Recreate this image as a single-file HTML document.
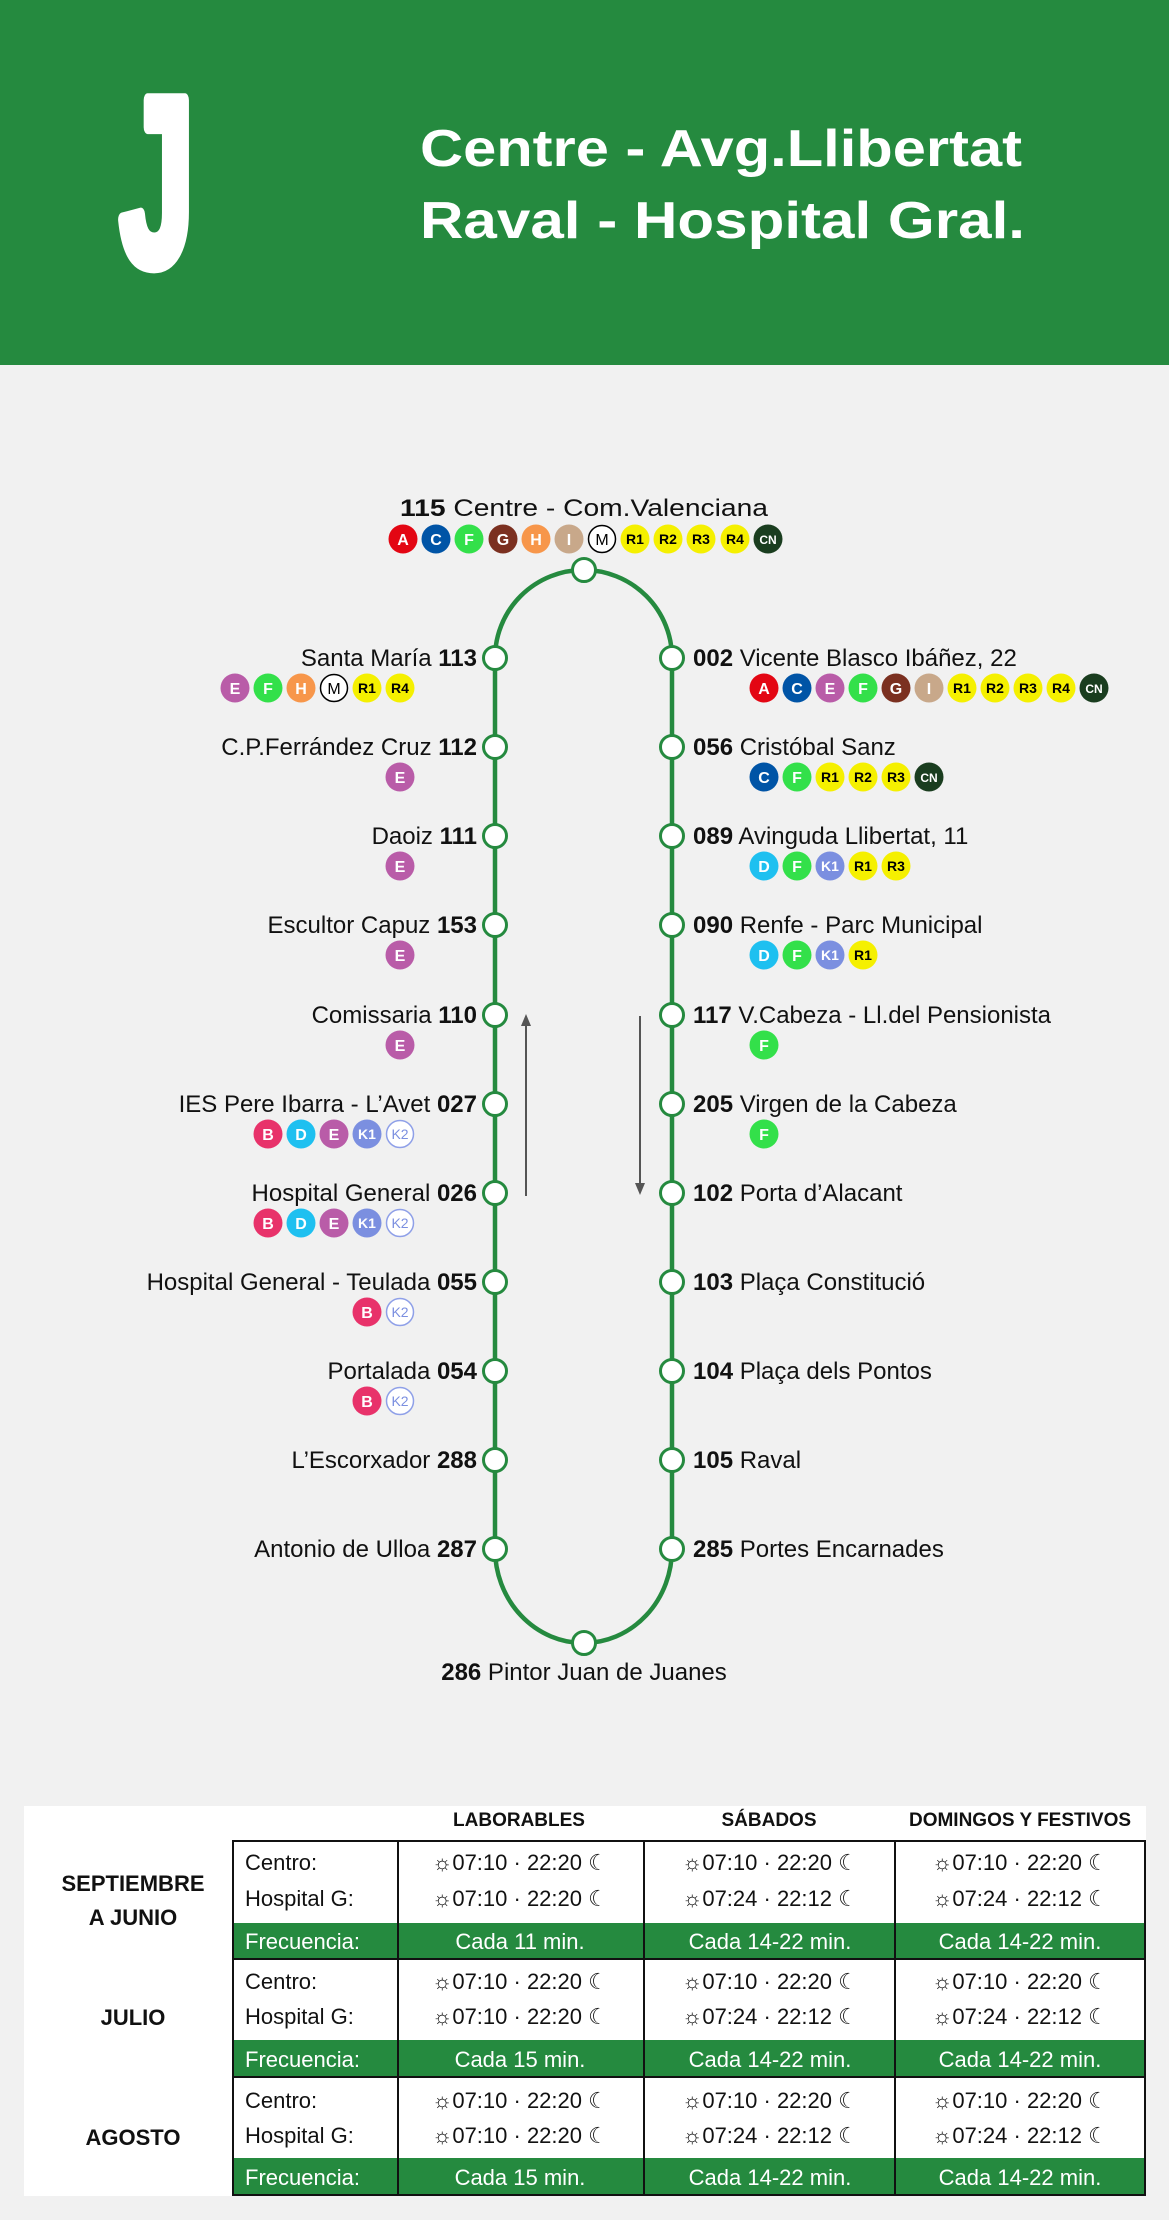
<!DOCTYPE html>
<html><head><meta charset="utf-8"><style>
html,body{margin:0;padding:0;background:#f1f1f1;}
svg{display:block;font-family:"Liberation Sans","DejaVu Sans",sans-serif;}
.bt{font-size:16px;font-weight:bold;fill:#fff;text-anchor:middle}
.rt{font-size:14px;font-weight:bold;fill:#000;text-anchor:middle}
.lbl{font-size:24px;fill:#111}
.num{font-weight:bold}
.node{fill:#fff;stroke:#258a3f;stroke-width:3}
.tc{font-size:22px;fill:#111}
.tw{font-size:22px;fill:#fff}
.hd{font-size:19px;font-weight:bold;fill:#111;text-anchor:middle}
.mo{font-size:22px;font-weight:bold;fill:#111;text-anchor:middle}
</style></head><body>
<svg width="1169" height="2220" viewBox="0 0 1169 2220" xmlns="http://www.w3.org/2000/svg">
<defs>
<g id="A"><circle r="14.5" fill="#e30613"/><text y="6" class="bt">A</text></g>
<g id="B"><circle r="14.5" fill="#e8326a"/><text y="6" class="bt">B</text></g>
<g id="C"><circle r="14.5" fill="#0054a6"/><text y="6" class="bt">C</text></g>
<g id="D"><circle r="14.5" fill="#1ec0f0"/><text y="6" class="bt">D</text></g>
<g id="E"><circle r="14.5" fill="#b95ca8"/><text y="6" class="bt">E</text></g>
<g id="F"><circle r="14.5" fill="#33e04a"/><text y="6" class="bt">F</text></g>
<g id="G"><circle r="14.5" fill="#7b3020"/><text y="6" class="bt">G</text></g>
<g id="H"><circle r="14.5" fill="#f7964a"/><text y="6" class="bt">H</text></g>
<g id="I"><circle r="14.5" fill="#c8a88a"/><text y="6" class="bt">I</text></g>
<g id="M"><circle r="13.5" fill="#fff" stroke="#000" stroke-width="1.5"/><text y="6" class="bt" style="fill:#000;font-weight:normal">M</text></g>
<g id="R1"><circle r="14.5" fill="#f5f000"/><text y="5" class="rt">R1</text></g>
<g id="R2"><circle r="14.5" fill="#f5f000"/><text y="5" class="rt">R2</text></g>
<g id="R3"><circle r="14.5" fill="#f5f000"/><text y="5" class="rt">R3</text></g>
<g id="R4"><circle r="14.5" fill="#f5f000"/><text y="5" class="rt">R4</text></g>
<g id="CN"><circle r="14.5" fill="#1a3d1f"/><text y="5" class="bt" style="font-size:12px">CN</text></g>
<g id="K1"><circle r="14.5" fill="#7b8fe0"/><text y="5" class="bt" style="font-size:14px">K1</text></g>
<g id="K2"><circle r="13.5" fill="#fff" stroke="#8fa0e8" stroke-width="1.5"/><text y="5" class="bt" style="font-size:14px;fill:#7b8fe0;font-weight:normal">K2</text></g>
</defs>

<rect x="0" y="0" width="1169" height="365" fill="#258a3f"/>
<text x="0" y="0" font-size="238" font-weight="bold" fill="#fff" stroke="#fff" stroke-width="14" stroke-linejoin="round" transform="translate(120,264) scale(0.56,1)">J</text>
<text x="420" y="166" font-size="52" font-weight="bold" fill="#fff" textLength="602" lengthAdjust="spacingAndGlyphs">Centre - Avg.Llibertat</text>
<text x="420" y="238" font-size="52" font-weight="bold" fill="#fff" textLength="605" lengthAdjust="spacingAndGlyphs">Raval - Hospital Gral.</text>

<path d="M495,1549 L495,658 A88.5,88 0 0 1 672,658 L672,1549 A88.5,94 0 0 1 495,1549 Z" fill="none" stroke="#258a3f" stroke-width="4.5"/>
<line x1="526" y1="1196" x2="526" y2="1022" stroke="#555" stroke-width="2"/>
<path d="M521,1026 L526,1014 L531,1026 Z" fill="#555"/>
<line x1="640" y1="1016" x2="640" y2="1187" stroke="#555" stroke-width="2"/>
<path d="M635,1183 L640,1195 L645,1183 Z" fill="#555"/>

<text x="400" y="516" class="lbl" textLength="368" lengthAdjust="spacingAndGlyphs"><tspan class="num">115</tspan> Centre - Com.Valenciana</text>
<use href="#A" x="403" y="539"/><use href="#C" x="436" y="539"/><use href="#F" x="469" y="539"/><use href="#G" x="503" y="539"/><use href="#H" x="536" y="539"/><use href="#I" x="569" y="539"/><use href="#M" x="602" y="539"/><use href="#R1" x="635" y="539"/><use href="#R2" x="668" y="539"/><use href="#R3" x="701" y="539"/><use href="#R4" x="735" y="539"/><use href="#CN" x="768" y="539"/>
<circle cx="584" cy="570" r="11.5" class="node"/>

<circle cx="584" cy="1643" r="11.5" class="node"/>
<text x="584" y="1680" class="lbl" text-anchor="middle"><tspan class="num">286</tspan> Pintor Juan de Juanes</text>

<g class="lbl" text-anchor="end">
<text x="477" y="666">Santa María <tspan class="num">113</tspan></text>
<text x="477" y="755">C.P.Ferrández Cruz <tspan class="num">112</tspan></text>
<text x="477" y="844">Daoiz <tspan class="num">111</tspan></text>
<text x="477" y="933">Escultor Capuz <tspan class="num">153</tspan></text>
<text x="477" y="1023">Comissaria <tspan class="num">110</tspan></text>
<text x="477" y="1112">IES Pere Ibarra - L’Avet <tspan class="num">027</tspan></text>
<text x="477" y="1201">Hospital General <tspan class="num">026</tspan></text>
<text x="477" y="1290">Hospital General - Teulada <tspan class="num">055</tspan></text>
<text x="477" y="1379">Portalada <tspan class="num">054</tspan></text>
<text x="477" y="1468">L’Escorxador <tspan class="num">288</tspan></text>
<text x="477" y="1557">Antonio de Ulloa <tspan class="num">287</tspan></text>
</g>
<use href="#E" x="235" y="688"/><use href="#F" x="268" y="688"/><use href="#H" x="301" y="688"/><use href="#M" x="334" y="688"/><use href="#R1" x="367" y="688"/><use href="#R4" x="400" y="688"/>
<use href="#E" x="400" y="777"/>
<use href="#E" x="400" y="866"/>
<use href="#E" x="400" y="955"/>
<use href="#E" x="400" y="1045"/>
<use href="#B" x="268" y="1134"/><use href="#D" x="301" y="1134"/><use href="#E" x="334" y="1134"/><use href="#K1" x="367" y="1134"/><use href="#K2" x="400" y="1134"/>
<use href="#B" x="268" y="1223"/><use href="#D" x="301" y="1223"/><use href="#E" x="334" y="1223"/><use href="#K1" x="367" y="1223"/><use href="#K2" x="400" y="1223"/>
<use href="#B" x="367" y="1312"/><use href="#K2" x="400" y="1312"/>
<use href="#B" x="367" y="1401"/><use href="#K2" x="400" y="1401"/>

<g class="lbl">
<text x="693" y="666"><tspan class="num">002</tspan> Vicente Blasco Ibáñez, 22</text>
<text x="693" y="755"><tspan class="num">056</tspan> Cristóbal Sanz</text>
<text x="693" y="844"><tspan class="num">089</tspan> Avinguda Llibertat, 11</text>
<text x="693" y="933"><tspan class="num">090</tspan> Renfe - Parc Municipal</text>
<text x="693" y="1023"><tspan class="num">117</tspan> V.Cabeza - Ll.del Pensionista</text>
<text x="693" y="1112"><tspan class="num">205</tspan> Virgen de la Cabeza</text>
<text x="693" y="1201"><tspan class="num">102</tspan> Porta d’Alacant</text>
<text x="693" y="1290"><tspan class="num">103</tspan> Plaça Constitució</text>
<text x="693" y="1379"><tspan class="num">104</tspan> Plaça dels Pontos</text>
<text x="693" y="1468"><tspan class="num">105</tspan> Raval</text>
<text x="693" y="1557"><tspan class="num">285</tspan> Portes Encarnades</text>
</g>
<use href="#A" x="764" y="688"/><use href="#C" x="797" y="688"/><use href="#E" x="830" y="688"/><use href="#F" x="863" y="688"/><use href="#G" x="896" y="688"/><use href="#I" x="929" y="688"/><use href="#R1" x="962" y="688"/><use href="#R2" x="995" y="688"/><use href="#R3" x="1028" y="688"/><use href="#R4" x="1061" y="688"/><use href="#CN" x="1094" y="688"/>
<use href="#C" x="764" y="777"/><use href="#F" x="797" y="777"/><use href="#R1" x="830" y="777"/><use href="#R2" x="863" y="777"/><use href="#R3" x="896" y="777"/><use href="#CN" x="929" y="777"/>
<use href="#D" x="764" y="866"/><use href="#F" x="797" y="866"/><use href="#K1" x="830" y="866"/><use href="#R1" x="863" y="866"/><use href="#R3" x="896" y="866"/>
<use href="#D" x="764" y="955"/><use href="#F" x="797" y="955"/><use href="#K1" x="830" y="955"/><use href="#R1" x="863" y="955"/>
<use href="#F" x="764" y="1045"/>
<use href="#F" x="764" y="1134"/>

<g class="node">
<circle cx="495" cy="658" r="11.5"/><circle cx="495" cy="747" r="11.5"/><circle cx="495" cy="836" r="11.5"/><circle cx="495" cy="925" r="11.5"/><circle cx="495" cy="1015" r="11.5"/><circle cx="495" cy="1104" r="11.5"/><circle cx="495" cy="1193" r="11.5"/><circle cx="495" cy="1282" r="11.5"/><circle cx="495" cy="1371" r="11.5"/><circle cx="495" cy="1460" r="11.5"/><circle cx="495" cy="1549" r="11.5"/>
<circle cx="672" cy="658" r="11.5"/><circle cx="672" cy="747" r="11.5"/><circle cx="672" cy="836" r="11.5"/><circle cx="672" cy="925" r="11.5"/><circle cx="672" cy="1015" r="11.5"/><circle cx="672" cy="1104" r="11.5"/><circle cx="672" cy="1193" r="11.5"/><circle cx="672" cy="1282" r="11.5"/><circle cx="672" cy="1371" r="11.5"/><circle cx="672" cy="1460" r="11.5"/><circle cx="672" cy="1549" r="11.5"/>
</g>

<rect x="24" y="1806" width="1122" height="390" fill="#fff"/>
<text x="519" y="1826" class="hd">LABORABLES</text>
<text x="769" y="1826" class="hd">SÁBADOS</text>
<text x="1020" y="1826" class="hd">DOMINGOS Y FESTIVOS</text>
<rect x="233" y="1923" width="912" height="36" fill="#258a3f"/>
<rect x="233" y="2040" width="912" height="37" fill="#258a3f"/>
<rect x="233" y="2158" width="912" height="37" fill="#258a3f"/>
<g stroke="#111" stroke-width="2" fill="none">
<rect x="233" y="1841" width="912" height="354"/>
<line x1="233" y1="1959" x2="1145" y2="1959"/>
<line x1="233" y1="2077" x2="1145" y2="2077"/>
<line x1="398" y1="1841" x2="398" y2="2195"/>
<line x1="644" y1="1841" x2="644" y2="2195"/>
<line x1="895" y1="1841" x2="895" y2="2195"/>
</g>
<text x="133" y="1891" class="mo">SEPTIEMBRE</text>
<text x="133" y="1925" class="mo">A JUNIO</text>
<text x="133" y="2025" class="mo">JULIO</text>
<text x="133" y="2145" class="mo">AGOSTO</text>

<g class="tc">
<text x="245" y="1870">Centro:</text><text x="245" y="1906">Hospital G:</text>
<text x="245" y="1989">Centro:</text><text x="245" y="2024">Hospital G:</text>
<text x="245" y="2108">Centro:</text><text x="245" y="2143">Hospital G:</text>
</g>
<g class="tc" text-anchor="middle">
<text x="520" y="1870">☼07:10 · 22:20 ☾</text><text x="520" y="1906">☼07:10 · 22:20 ☾</text>
<text x="770" y="1870">☼07:10 · 22:20 ☾</text><text x="770" y="1906">☼07:24 · 22:12 ☾</text>
<text x="1020" y="1870">☼07:10 · 22:20 ☾</text><text x="1020" y="1906">☼07:24 · 22:12 ☾</text>
<text x="520" y="1989">☼07:10 · 22:20 ☾</text><text x="520" y="2024">☼07:10 · 22:20 ☾</text>
<text x="770" y="1989">☼07:10 · 22:20 ☾</text><text x="770" y="2024">☼07:24 · 22:12 ☾</text>
<text x="1020" y="1989">☼07:10 · 22:20 ☾</text><text x="1020" y="2024">☼07:24 · 22:12 ☾</text>
<text x="520" y="2108">☼07:10 · 22:20 ☾</text><text x="520" y="2143">☼07:10 · 22:20 ☾</text>
<text x="770" y="2108">☼07:10 · 22:20 ☾</text><text x="770" y="2143">☼07:24 · 22:12 ☾</text>
<text x="1020" y="2108">☼07:10 · 22:20 ☾</text><text x="1020" y="2143">☼07:24 · 22:12 ☾</text>
</g>
<g class="tw">
<text x="245" y="1949">Frecuencia:</text><text x="245" y="2067">Frecuencia:</text><text x="245" y="2185">Frecuencia:</text>
</g>
<g class="tw" text-anchor="middle">
<text x="520" y="1949">Cada 11 min.</text><text x="770" y="1949">Cada 14-22 min.</text><text x="1020" y="1949">Cada 14-22 min.</text>
<text x="520" y="2067">Cada 15 min.</text><text x="770" y="2067">Cada 14-22 min.</text><text x="1020" y="2067">Cada 14-22 min.</text>
<text x="520" y="2185">Cada 15 min.</text><text x="770" y="2185">Cada 14-22 min.</text><text x="1020" y="2185">Cada 14-22 min.</text>
</g>
</svg>
</body></html>
